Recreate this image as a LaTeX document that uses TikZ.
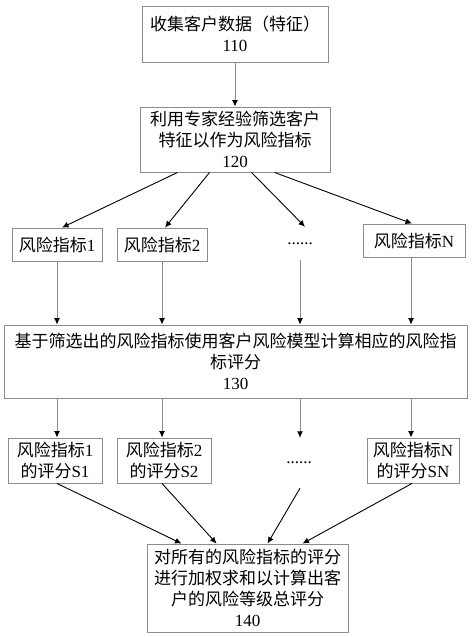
\documentclass[tikz,border=0pt]{standalone}
\usepackage{fontspec}
\setmainfont{Liberation Serif}
\newfontfamily\cjk{Noto Sans CJK SC}
\usetikzlibrary{arrows.meta}
\definecolor{boxgray}{RGB}{140,140,140}
\tikzset{
  stepbox/.style={draw=boxgray, line width=0.9pt, align=center, inner sep=0pt,
    font=\cjk\fontsize{17}{21}\selectfont},
  dotsbox/.style={inner sep=0pt, minimum height=33pt, font=\fontsize{17}{21}\selectfont},
  vline/.style={draw=boxgray, line width=0.9pt, -{Latex[color=black,length=6.5pt,width=6pt]}},
  dline/.style={draw=black, line width=0.9pt, -{Latex[length=6.5pt,width=6pt]}},
}

\begin{document}
\begin{tikzpicture}[x=1pt, y=-1pt]

\useasboundingbox (0,0) rectangle (474,637);

\node[stepbox, minimum width=186pt, minimum height=56pt] (collect) at (235, 34) {%
收集客户数据（特征）\\\textrm{110}%
};
\node[stepbox, minimum width=190pt, minimum height=65pt] (select) at (235, 139.5) {%
利用专家经验筛选客户\\特征以作为风险指标\\\textrm{120}%
};

\node[stepbox, minimum width=90pt, minimum height=33pt] (ind1) at (57, 244.5) {风险指标\textrm{1}};
\node[stepbox, minimum width=90pt, minimum height=33pt] (ind2) at (162, 244.5) {风险指标\textrm{2}};
\node[dotsbox] (inddots) at (300, 243.5) {......};
\node[stepbox, minimum width=102pt, minimum height=33pt] (indN) at (414, 240.5) {风险指标\textrm{N}};

\node[stepbox, minimum width=463pt, minimum height=73pt] (model) at (235.5, 361.5) {%
基于筛选出的风险指标使用客户风险模型计算相应的风险指\\标评分\\\textrm{130}%
};

\node[stepbox, minimum width=94pt, minimum height=45pt] (score1) at (55, 460.5) {风险指标\textrm{1}\\的评分\textrm{S1}};
\node[stepbox, minimum width=94pt, minimum height=45pt] (score2) at (164, 460.5) {风险指标\textrm{2}\\的评分\textrm{S2}};
\node[dotsbox, minimum height=50pt] (scoredots) at (299, 463) {......};
\node[stepbox, minimum width=92pt, minimum height=45pt] (scoreN) at (413, 460.5) {风险指标\textrm{N}\\的评分\textrm{SN}};

\node[stepbox, minimum width=201pt, minimum height=88pt] (total) at (247.5, 588) {%
对所有的风险指标的评分\\进行加权求和以计算出客\\户的风险等级总评分\\\textrm{140}%
};

% 110 -> 120
\draw[vline] (collect) -- (select);

% 120 -> indicators
\draw[dline] ([xshift=38pt]select.south west) -- ([xshift=5pt]ind1.north);
\draw[dline] ([xshift=70pt]select.south west) -- ([xshift=3pt]ind2.north);
\draw[dline] ([xshift=112pt]select.south west) -- ([xshift=5pt]inddots.north);
\draw[dline] ([xshift=135pt]select.south west) -- ([xshift=-2pt]indN.north);

% indicators -> 130
\draw[vline] (ind1.south) -- (ind1.south |- model.north);
\draw[vline] (ind2.south) -- (ind2.south |- model.north);
\draw[vline] (inddots.south) -- (inddots.south |- model.north);
\draw[vline] ([xshift=-3pt]indN.south) -- ([xshift=-3pt]indN.south |- model.north);

% 130 -> scores
\draw[vline] (model.south -| ind1.south) -- (ind1.south |- score1.north);
\draw[vline] (model.south -| ind2.south) -- (ind2.south |- score2.north);
\draw[vline] (model.south -| inddots.south) -- (inddots.south |- scoredots.north);
\draw[vline] ([xshift=-3pt]model.south -| indN.south) -- ([xshift=-3pt]indN.south |- scoreN.north);

% scores -> 140
\draw[dline] ([xshift=2pt]score1.south) -- ([xshift=35pt]total.north west);
\draw[dline] ([xshift=-2pt]score2.south) -- ([xshift=70pt]total.north west);
\draw[dline] ([xshift=1pt]scoredots.south) -- ([xshift=121pt]total.north west);
\draw[dline] ([xshift=-1pt]scoreN.south) -- ([xshift=156pt]total.north west);

\end{tikzpicture}
\end{document}
